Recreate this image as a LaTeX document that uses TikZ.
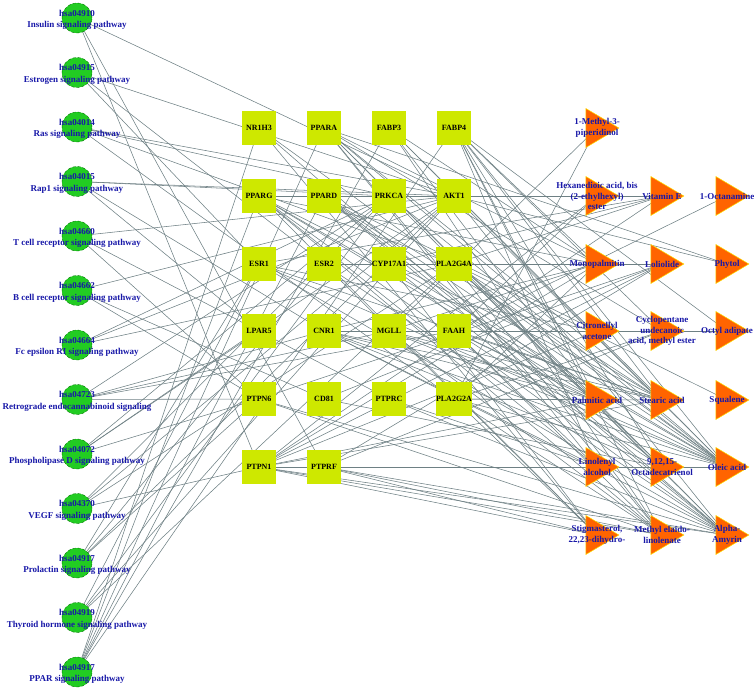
\documentclass[tikz,border=0pt]{standalone}
\usepackage{fontspec}
\setmainfont{Liberation Serif}
\usepackage{tikz}
\usetikzlibrary{shapes.geometric,backgrounds}
\definecolor{pathgreen}{RGB}{34,204,34}
\definecolor{targetyellow}{RGB}{206,232,0}
\definecolor{cmpdorange}{RGB}{255,100,0}
\definecolor{edgegray}{RGB}{110,128,132}
\definecolor{labelblue}{RGB}{24,24,168}
\newcommand{\edgewidth}{0.55pt}
\newcommand{\boxsize}{34pt}
\tikzset{
  pathway/.style={circle, fill=pathgreen, draw=green!45!black, densely dashed, minimum size=30pt, inner sep=0pt},
  pwlabel/.style={text=labelblue, font=\fontsize{9}{11.5}\selectfont\bfseries, align=center, yshift=-2pt},
  target/.style={rectangle, fill=targetyellow, minimum size=\boxsize, inner sep=0pt, font=\fontsize{8}{10}\selectfont\bfseries},
  compound/.style={isosceles triangle, isosceles triangle stretches, fill=cmpdorange, draw=yellow!85!orange, line width=0.5pt, minimum width=39pt, minimum height=33pt, inner sep=0pt},
  cmpdlabel/.style={text=labelblue, font=\fontsize{9}{10.5}\selectfont\bfseries, align=center},
  link/.style={draw=edgegray, line width=\edgewidth}
}

\begin{document}
\begin{tikzpicture}[x=1pt, y=-1pt]
\useasboundingbox (0,0) rectangle (756,691);
%pathways
\node[pathway] (hsa04910) at (77, 18) [label={[pwlabel]center:{hsa04910\\Insulin signaling pathway}}] {};
\node[pathway] (hsa04915) at (77, 72.5) [label={[pwlabel]center:{hsa04915\\Estrogen signaling pathway}}] {};
\node[pathway] (hsa04014) at (77, 127) [label={[pwlabel]center:{hsa04014\\Ras signaling pathway}}] {};
\node[pathway] (hsa04015) at (77, 181.5) [label={[pwlabel]center:{hsa04015\\Rap1 signaling pathway}}] {};
\node[pathway] (hsa04660) at (77, 236) [label={[pwlabel]center:{hsa04660\\T cell receptor signaling pathway}}] {};
\node[pathway] (hsa04662) at (77, 290.5) [label={[pwlabel]center:{hsa04662\\B cell receptor signaling pathway}}] {};
\node[pathway] (hsa04664) at (77, 345) [label={[pwlabel]center:{hsa04664\\Fc epsilon RI signaling pathway}}] {};
\node[pathway] (hsa04723) at (77, 399.5) [label={[pwlabel]center:{hsa04723\\Retrograde endocannabinoid signaling}}] {};
\node[pathway] (hsa04072) at (77, 454) [label={[pwlabel]center:{hsa04072\\Phospholipase D signaling pathway}}] {};
\node[pathway] (hsa04370) at (77, 508.5) [label={[pwlabel]center:{hsa04370\\VEGF signaling pathway}}] {};
\node[pathway] (hsa04917) at (77, 563) [label={[pwlabel]center:{hsa04917\\Prolactin signaling pathway}}] {};
\node[pathway] (hsa04919) at (77, 617.5) [label={[pwlabel]center:{hsa04919\\Thyroid hormone signaling pathway}}] {};
\node[pathway] (hsa03320) at (77, 672) [label={[pwlabel]center:{hsa04917\\PPAR signaling pathway}}] {};
%targets
\node[target] (NR1H3) at (259, 128) {NR1H3};
\node[target] (PPARA) at (324, 128) {PPARA};
\node[target] (FABP3) at (389, 128) {FABP3};
\node[target] (FABP4) at (454, 128) {FABP4};
\node[target] (PPARG) at (259, 196) {PPARG};
\node[target] (PPARD) at (324, 196) {PPARD};
\node[target] (PRKCA) at (389, 196) {PRKCA};
\node[target] (AKT1) at (454, 196) {AKT1};
\node[target] (ESR1) at (259, 264) {ESR1};
\node[target] (ESR2) at (324, 264) {ESR2};
\node[target] (CYP17A1) at (389, 264) {CYP17A1};
\node[target] (PLA2G4A) at (454, 264) {PLA2G4A};
\node[target] (LPAR5) at (259, 331) {LPAR5};
\node[target] (CNR1) at (324, 331) {CNR1};
\node[target] (MGLL) at (389, 331) {MGLL};
\node[target] (FAAH) at (454, 331) {FAAH};
\node[target] (PTPN6) at (259, 399) {PTPN6};
\node[target] (CD81) at (324, 399) {CD81};
\node[target] (PTPRC) at (389, 399) {PTPRC};
\node[target] (PLA2G2A) at (454, 399) {PLA2G2A};
\node[target] (PTPN1) at (259, 467) {PTPN1};
\node[target] (PTPRF) at (324, 467) {PTPRF};
%compounds
\node[compound] (methylpip) at (597, 128) [label={[cmpdlabel]center:{1-Methyl-3-\\piperidinol}}] {};
\node[compound] (hexanedioic) at (597, 196) [label={[cmpdlabel]center:{Hexanedioic acid, bis\\(2-ethylhexyl)\\ester}}] {};
\node[compound] (vitaminE) at (662, 196) [label={[cmpdlabel]center:{Vitamin E}}] {};
\node[compound] (octanamine) at (727, 196) [label={[cmpdlabel]center:{1-Octanamine}}] {};
\node[compound] (monopalmitin) at (597, 264) [label={[cmpdlabel]center:{Monopalmitin}}] {};
\node[compound] (loliolide) at (662, 264) [label={[cmpdlabel]center:{Loliolide}}] {};
\node[compound] (phytol) at (727, 264) [label={[cmpdlabel]center:{Phytol}}] {};
\node[compound] (citronellyl) at (597, 331) [label={[cmpdlabel]center:{Citronellyl\\acetone}}] {};
\node[compound] (cyclopentane) at (662, 331) [label={[cmpdlabel]center:{Cyclopentane\\undecanoic\\acid, methyl ester}}] {};
\node[compound] (octyl) at (727, 331) [label={[cmpdlabel]center:{Octyl adipate}}] {};
\node[compound] (palmitic) at (597, 400) [label={[cmpdlabel]center:{Palmitic acid}}] {};
\node[compound] (stearic) at (662, 400) [label={[cmpdlabel]center:{Stearic acid}}] {};
\node[compound] (squalene) at (727, 400) [label={[cmpdlabel]center:{Squalene}}] {};
\node[compound] (linolenyl) at (597, 467) [label={[cmpdlabel]center:{Linolenyl\\alcohol}}] {};
\node[compound] (octadecatrienol) at (662, 467) [label={[cmpdlabel]center:{9,12,15-\\Octadecatrienol}}] {};
\node[compound] (oleic) at (727, 467) [label={[cmpdlabel]center:{Oleic acid}}] {};
\node[compound] (stigmasterol) at (597, 535) [label={[cmpdlabel]center:{Stigmasterol,\\22,23-dihydro-}}] {};
\node[compound] (methylelaido) at (662, 535) [label={[cmpdlabel]center:{Methyl elaido-\\linolenate}}] {};
\node[compound] (amyrin) at (727, 535) [label={[cmpdlabel]center:{Alpha-\\Amyrin}}] {};
\begin{scope}[on background layer]
%hsa04910
\draw[link] (hsa04910.center) -- (AKT1.center);
\draw[link] (hsa04910.center) -- (PTPN1.center);
\draw[link] (hsa04910.center) -- (PTPRF.center);
%hsa04915
\draw[link] (hsa04915.center) -- (AKT1.center);
\draw[link] (hsa04915.center) -- (ESR1.center);
\draw[link] (hsa04915.center) -- (ESR2.center);
%hsa04014
\draw[link] (hsa04014.center) -- (AKT1.center);
\draw[link] (hsa04014.center) -- (PRKCA.center);
\draw[link] (hsa04014.center) -- (PLA2G4A.center);
\draw[link] (hsa04014.center) -- (PLA2G2A.center);
%hsa04015
\draw[link] (hsa04015.center) -- (AKT1.center);
\draw[link] (hsa04015.center) -- (PRKCA.center);
\draw[link] (hsa04015.center) -- (LPAR5.center);
\draw[link] (hsa04015.center) -- (CNR1.center);
%hsa04660
\draw[link] (hsa04660.center) -- (AKT1.center);
\draw[link] (hsa04660.center) -- (PTPRC.center);
\draw[link] (hsa04660.center) -- (PTPN6.center);
%hsa04662
\draw[link] (hsa04662.center) -- (AKT1.center);
\draw[link] (hsa04662.center) -- (CD81.center);
\draw[link] (hsa04662.center) -- (PTPN6.center);
%hsa04664
\draw[link] (hsa04664.center) -- (AKT1.center);
\draw[link] (hsa04664.center) -- (PRKCA.center);
\draw[link] (hsa04664.center) -- (PLA2G4A.center);
%hsa04723
\draw[link] (hsa04723.center) -- (CNR1.center);
\draw[link] (hsa04723.center) -- (MGLL.center);
\draw[link] (hsa04723.center) -- (FAAH.center);
\draw[link] (hsa04723.center) -- (PRKCA.center);
\draw[link] (hsa04723.center) -- (PTPN6.center);
%hsa04072
\draw[link] (hsa04072.center) -- (AKT1.center);
\draw[link] (hsa04072.center) -- (PRKCA.center);
\draw[link] (hsa04072.center) -- (LPAR5.center);
\draw[link] (hsa04072.center) -- (PTPN6.center);
%hsa04370
\draw[link] (hsa04370.center) -- (AKT1.center);
\draw[link] (hsa04370.center) -- (PRKCA.center);
\draw[link] (hsa04370.center) -- (PLA2G4A.center);
\draw[link] (hsa04370.center) -- (PTPN1.center);
%hsa04917
\draw[link] (hsa04917.center) -- (AKT1.center);
\draw[link] (hsa04917.center) -- (ESR1.center);
\draw[link] (hsa04917.center) -- (ESR2.center);
\draw[link] (hsa04917.center) -- (PTPN6.center);
%hsa04919
\draw[link] (hsa04919.center) -- (AKT1.center);
\draw[link] (hsa04919.center) -- (PRKCA.center);
\draw[link] (hsa04919.center) -- (ESR1.center);
\draw[link] (hsa04919.center) -- (PLA2G4A.center);
%hsa03320
\draw[link] (hsa03320.center) -- (PPARA.center);
\draw[link] (hsa03320.center) -- (PPARD.center);
\draw[link] (hsa03320.center) -- (PPARG.center);
\draw[link] (hsa03320.center) -- (NR1H3.center);
\draw[link] (hsa03320.center) -- (FABP3.center);
\draw[link] (hsa03320.center) -- (FABP4.center);
%methylpip
\draw[link] (methylpip.center) -- (PLA2G2A.center);
\draw[link] (methylpip.center) -- (MGLL.center);
%hexanedioic
\draw[link] (hexanedioic.center) -- (PTPN1.center);
\draw[link] (hexanedioic.center) -- (PPARG.center);
\draw[link] (hexanedioic.center) -- (FAAH.center);
%vitaminE
\draw[link] (vitaminE.center) -- (AKT1.center);
\draw[link] (vitaminE.center) -- (PRKCA.center);
\draw[link] (vitaminE.center) -- (PPARG.center);
\draw[link] (vitaminE.center) -- (ESR1.center);
\draw[link] (vitaminE.center) -- (CYP17A1.center);
\draw[link] (vitaminE.center) -- (PLA2G4A.center);
\draw[link] (vitaminE.center) -- (PTPN1.center);
%octanamine
\draw[link] (octanamine.center) -- (FAAH.center);
%monopalmitin
\draw[link] (monopalmitin.center) -- (PPARA.center);
\draw[link] (monopalmitin.center) -- (PPARG.center);
\draw[link] (monopalmitin.center) -- (FABP4.center);
\draw[link] (monopalmitin.center) -- (FABP3.center);
\draw[link] (monopalmitin.center) -- (MGLL.center);
\draw[link] (monopalmitin.center) -- (CNR1.center);
\draw[link] (monopalmitin.center) -- (PLA2G2A.center);
\draw[link] (monopalmitin.center) -- (PTPN1.center);
%loliolide
\draw[link] (loliolide.center) -- (PTPN1.center);
\draw[link] (loliolide.center) -- (PTPRF.center);
\draw[link] (loliolide.center) -- (CD81.center);
\draw[link] (loliolide.center) -- (PTPN6.center);
\draw[link] (loliolide.center) -- (ESR2.center);
%phytol
\draw[link] (phytol.center) -- (AKT1.center);
\draw[link] (phytol.center) -- (PPARA.center);
%citronellyl
\draw[link] (citronellyl.center) -- (FAAH.center);
\draw[link] (citronellyl.center) -- (CNR1.center);
\draw[link] (citronellyl.center) -- (ESR1.center);
\draw[link] (citronellyl.center) -- (PTPN1.center);
\draw[link] (citronellyl.center) -- (PPARD.center);
%cyclopentane
\draw[link] (cyclopentane.center) -- (PPARA.center);
\draw[link] (cyclopentane.center) -- (FABP4.center);
\draw[link] (cyclopentane.center) -- (PTPRF.center);
\draw[link] (cyclopentane.center) -- (PLA2G2A.center);
%octyl
\draw[link] (octyl.center) -- (FAAH.center);
\draw[link] (octyl.center) -- (FABP4.center);
%palmitic
\draw[link] (palmitic.center) -- (PLA2G2A.center);
\draw[link] (palmitic.center) -- (FABP4.center);
\draw[link] (palmitic.center) -- (FABP3.center);
\draw[link] (palmitic.center) -- (PPARA.center);
\draw[link] (palmitic.center) -- (PPARD.center);
\draw[link] (palmitic.center) -- (PPARG.center);
\draw[link] (palmitic.center) -- (MGLL.center);
\draw[link] (palmitic.center) -- (CNR1.center);
\draw[link] (palmitic.center) -- (FAAH.center);
\draw[link] (palmitic.center) -- (PTPN1.center);
%stearic
\draw[link] (stearic.center) -- (FABP4.center);
\draw[link] (stearic.center) -- (FABP3.center);
\draw[link] (stearic.center) -- (PPARA.center);
\draw[link] (stearic.center) -- (PPARD.center);
\draw[link] (stearic.center) -- (PPARG.center);
\draw[link] (stearic.center) -- (PLA2G4A.center);
\draw[link] (stearic.center) -- (PLA2G2A.center);
\draw[link] (stearic.center) -- (FAAH.center);
\draw[link] (stearic.center) -- (MGLL.center);
\draw[link] (stearic.center) -- (CNR1.center);
\draw[link] (stearic.center) -- (PTPN1.center);
\draw[link] (stearic.center) -- (ESR1.center);
%squalene
\draw[link] (squalene.center) -- (PLA2G4A.center);
%linolenyl
\draw[link] (linolenyl.center) -- (PTPRF.center);
\draw[link] (linolenyl.center) -- (FABP4.center);
\draw[link] (linolenyl.center) -- (PPARA.center);
\draw[link] (linolenyl.center) -- (PPARG.center);
\draw[link] (linolenyl.center) -- (CNR1.center);
\draw[link] (linolenyl.center) -- (FAAH.center);
\draw[link] (linolenyl.center) -- (PTPN1.center);
\draw[link] (linolenyl.center) -- (PTPRC.center);
%octadecatrienol
\draw[link] (octadecatrienol.center) -- (PTPN1.center);
\draw[link] (octadecatrienol.center) -- (FABP4.center);
\draw[link] (octadecatrienol.center) -- (PPARA.center);
\draw[link] (octadecatrienol.center) -- (PPARD.center);
\draw[link] (octadecatrienol.center) -- (PLA2G4A.center);
\draw[link] (octadecatrienol.center) -- (FAAH.center);
\draw[link] (octadecatrienol.center) -- (CNR1.center);
\draw[link] (octadecatrienol.center) -- (CD81.center);
%oleic
\draw[link] (oleic.center) -- (FABP4.center);
\draw[link] (oleic.center) -- (FABP3.center);
\draw[link] (oleic.center) -- (PPARA.center);
\draw[link] (oleic.center) -- (PPARD.center);
\draw[link] (oleic.center) -- (PPARG.center);
\draw[link] (oleic.center) -- (NR1H3.center);
\draw[link] (oleic.center) -- (PRKCA.center);
\draw[link] (oleic.center) -- (AKT1.center);
\draw[link] (oleic.center) -- (PLA2G4A.center);
\draw[link] (oleic.center) -- (PLA2G2A.center);
\draw[link] (oleic.center) -- (FAAH.center);
\draw[link] (oleic.center) -- (MGLL.center);
\draw[link] (oleic.center) -- (CNR1.center);
\draw[link] (oleic.center) -- (PTPN1.center);
\draw[link] (oleic.center) -- (PTPRF.center);
\draw[link] (oleic.center) -- (ESR1.center);
\draw[link] (oleic.center) -- (CYP17A1.center);
%stigmasterol
\draw[link] (stigmasterol.center) -- (PTPN1.center);
\draw[link] (stigmasterol.center) -- (PTPRF.center);
\draw[link] (stigmasterol.center) -- (NR1H3.center);
\draw[link] (stigmasterol.center) -- (PPARG.center);
\draw[link] (stigmasterol.center) -- (CYP17A1.center);
\draw[link] (stigmasterol.center) -- (PLA2G2A.center);
\draw[link] (stigmasterol.center) -- (ESR2.center);
%methylelaido
\draw[link] (methylelaido.center) -- (FABP4.center);
\draw[link] (methylelaido.center) -- (FABP3.center);
\draw[link] (methylelaido.center) -- (PPARA.center);
\draw[link] (methylelaido.center) -- (PPARG.center);
\draw[link] (methylelaido.center) -- (PLA2G4A.center);
\draw[link] (methylelaido.center) -- (PLA2G2A.center);
\draw[link] (methylelaido.center) -- (FAAH.center);
\draw[link] (methylelaido.center) -- (MGLL.center);
\draw[link] (methylelaido.center) -- (PTPN1.center);
\draw[link] (methylelaido.center) -- (PTPRF.center);
\draw[link] (methylelaido.center) -- (PTPN6.center);
%amyrin
\draw[link] (amyrin.center) -- (PTPN1.center);
\draw[link] (amyrin.center) -- (PTPRF.center);
\draw[link] (amyrin.center) -- (NR1H3.center);
\draw[link] (amyrin.center) -- (PPARG.center);
\draw[link] (amyrin.center) -- (PPARD.center);
\draw[link] (amyrin.center) -- (ESR1.center);
\draw[link] (amyrin.center) -- (ESR2.center);
\draw[link] (amyrin.center) -- (CYP17A1.center);
\draw[link] (amyrin.center) -- (AKT1.center);
\draw[link] (amyrin.center) -- (PRKCA.center);
\draw[link] (amyrin.center) -- (PLA2G4A.center);
\draw[link] (amyrin.center) -- (PTPN6.center);
\draw[link] (amyrin.center) -- (PTPRC.center);
\draw[link] (amyrin.center) -- (CNR1.center);
\end{scope}
\end{tikzpicture}
\end{document}
